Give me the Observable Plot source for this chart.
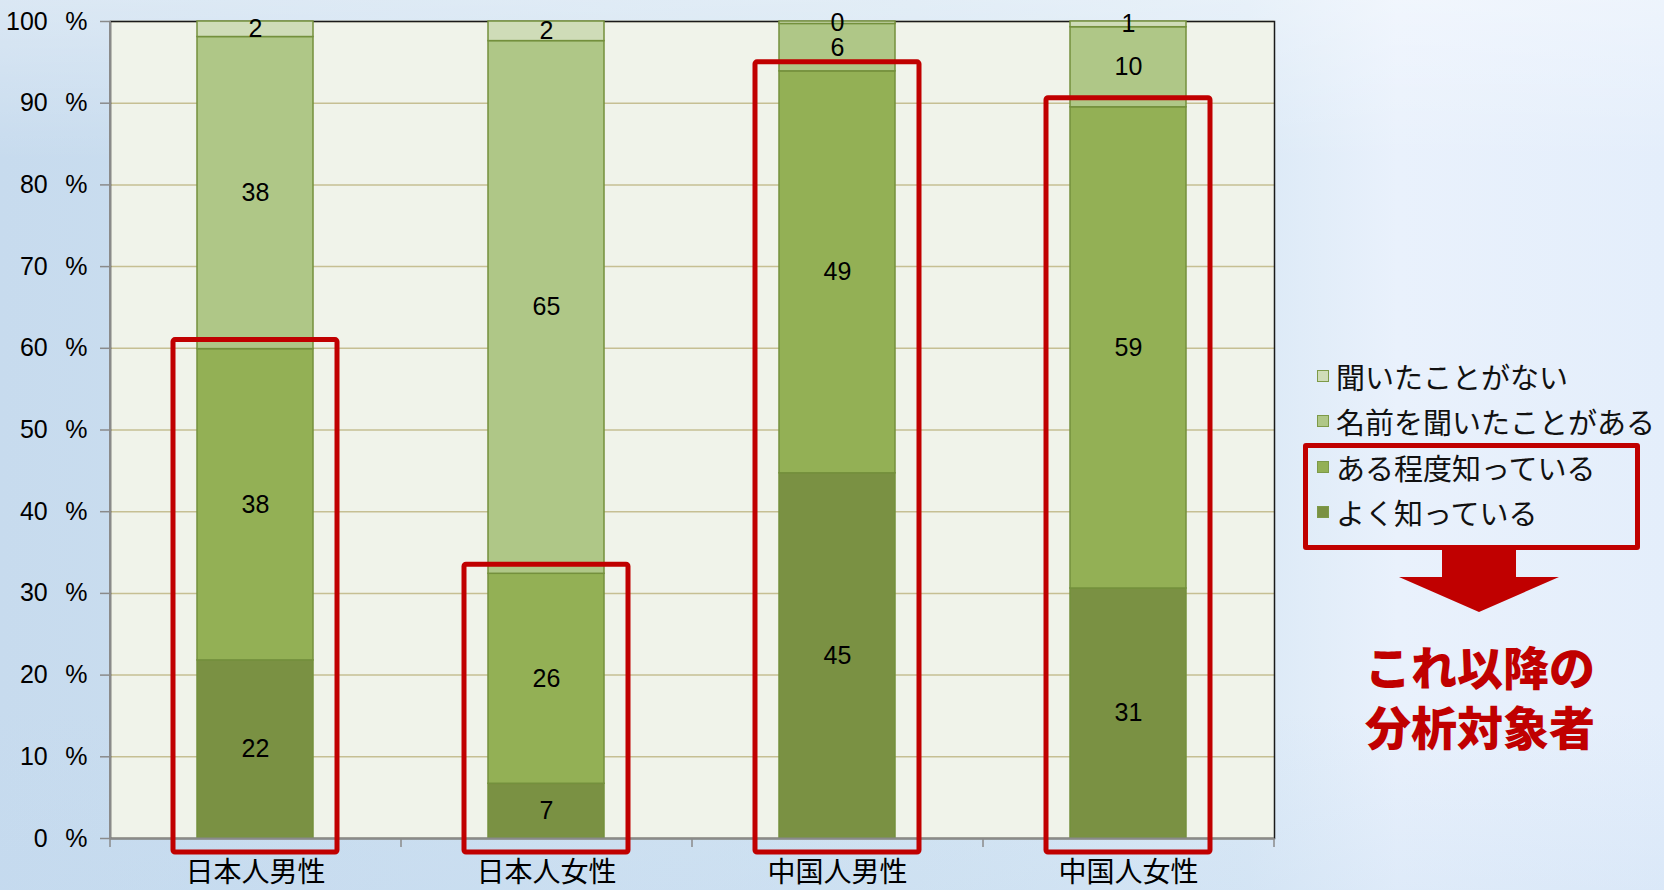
<!DOCTYPE html>
<html>
<head>
<meta charset="utf-8">
<script src="https://cdn.jsdelivr.net/npm/d3@7"></script>
<script src="https://cdn.jsdelivr.net/npm/@observablehq/plot@0.6"></script>
<style>
  html, body { margin: 0; padding: 0; }
  body {
    width: 1664px; height: 890px; overflow: hidden; position: relative;
    background:
      linear-gradient(to bottom, rgba(255,255,255,0.35) 0%, rgba(255,255,255,0) 18%, rgba(255,255,255,0) 80%, rgba(190,215,240,0.25) 100%),
      linear-gradient(to right, #c7dbee 0%, #d3e4f2 55%, #dbe9f6 75%, #e9f1fc 84%, #e4eefb 100%);
    font-family: "Liberation Sans", Arial, sans-serif;
  }
  #chart { position: absolute; left: 0; top: 0; }
  #legend { position: absolute; left: 1317px; top: 353px; font-family: "Noto Sans CJK JP", sans-serif; font-size: 29px; color: #111; }
  .row { height: 45.5px; display: flex; align-items: center; white-space: nowrap; }
  .sw { width: 12px; height: 12px; margin-right: 7px; box-sizing: border-box; border: 1px solid #7d9a48; }
  #redbox { position: absolute; left: 1303px; top: 443px; width: 337px; height: 107px; box-sizing: border-box; border: 5px solid #c00000; border-radius: 3px; }
  #arrow { position: absolute; left: 1390px; top: 548px; }
  .note { position: absolute; left: 1330px; width: 300px; text-align: center; color: #c00000; font-family: "Noto Sans CJK JP", sans-serif; font-weight: 900; font-size: 46px; line-height: 50px; height: 50px; }
</style>
</head>
<body>
<div id="chart"></div>
<div id="legend"></div>
<div id="redbox"></div>
<svg id="arrow" width="180" height="70"><polygon points="52,0 126,0 126,29 169,29 89,64 9,29 52,29" fill="#c00000"/></svg>
<div class="note" style="top: 640px;">これ以降の</div>
<div class="note" style="top: 700px;">分析対象者</div>
<script>
// categories
const groups = ["日本人男性", "日本人女性", "中国人男性", "中国人女性"];
// stacking order, bottom to top
const levels = ["よく知っている", "ある程度知っている", "名前を聞いたことがある", "聞いたことがない"];
// series values (%)
const wellKnown  = [21.8, 6.7, 44.7, 30.6];
const someKnown  = [38.1, 25.7, 49.2, 58.9];
const nameOnly   = [38.2, 65.2, 5.8, 9.8];
const neverHeard = [1.9, 2.4, 0.3, 0.7];
// tick labels
const yTicks = [0, 10, 20, 30, 40, 50, 60, 70, 80, 90, 100];

const colors = ["#7a9143", "#93b055", "#afc787", "#cfdcb8"];

const series = [wellKnown, someKnown, nameOnly, neverHeard];
const data = [];
groups.forEach((g, i) => levels.forEach((l, j) => data.push({group: g, level: l, value: series[j][i]})));
const boxes = groups.map((g, i) => ({group: g, top: wellKnown[i] + someKnown[i]}));

const W = 1290, ML = 110, MR = 16;
const step = (W - ML - MR) / groups.length;
const grey = "#8a8a8a";

const chart = Plot.plot({
  width: W, height: 890,
  marginLeft: ML, marginRight: MR, marginTop: 21, marginBottom: 52,
  style: {background: "transparent", overflow: "visible", fontFamily: "'Liberation Sans', Arial, sans-serif"},
  x: {domain: groups, paddingInner: 0.6, paddingOuter: 0.3, label: null},
  y: {domain: [0, 100], label: null},
  color: {domain: levels, range: colors},
  marks: [
    Plot.frame({fill: "#f0f3ea", stroke: "none"}),
    Plot.gridY(yTicks, {stroke: "#c6bf93", strokeOpacity: 1, strokeWidth: 1.5}),
    Plot.frame({stroke: "#1a1a1a", strokeWidth: 1.5, fill: "none"}),
    Plot.barY(data, Plot.stackY({x: "group", y: "value", fill: "level", stroke: "#74903d", strokeWidth: 1.5})),
    Plot.text(data, Plot.stackY({x: "group", y: "value", text: d => Math.round(d.value), fontSize: 25, fill: "#000"})),
    Plot.ruleY([0], {stroke: grey, strokeWidth: 2}),
    Plot.ruleX([groups[0]], {dx: -step / 2, stroke: grey, strokeWidth: 2}),
    Plot.ruleX(groups, {x: d => d, dx: -step / 2, y1: 0, y2: 0, insetBottom: -9, stroke: grey, strokeWidth: 1.5}),
    Plot.ruleX([groups[groups.length - 1]], {dx: step / 2, y1: 0, y2: 0, insetBottom: -9, stroke: grey, strokeWidth: 1.5}),
    Plot.axisY(yTicks, {tickSize: 10, tickPadding: 13, fontSize: 25, stroke: grey, strokeWidth: 1.5, fill: "#000", tickFormat: d => `${d}\u2002\u2009%`, label: null}),
    Plot.axisX({tickSize: 0, tickPadding: 24, fontSize: 28, fontFamily: "'Noto Sans CJK JP', sans-serif", fill: "#000", label: null}),
    Plot.barY(boxes, {x: "group", y1: 0, y2: "top", fill: "none", stroke: "#c00000", strokeWidth: 5, insetLeft: -24, insetRight: -24, insetTop: -9, insetBottom: -14, rx: 2})
  ]
});
document.getElementById("chart").appendChild(chart);

// legend (top row = top of stack)
const legend = document.getElementById("legend");
levels.slice().reverse().forEach(l => {
  const row = document.createElement("div");
  row.className = "row";
  const sw = document.createElement("span");
  sw.className = "sw";
  sw.style.background = colors[levels.indexOf(l)];
  row.appendChild(sw);
  row.appendChild(document.createTextNode(l));
  legend.appendChild(row);
});
</script>
</body>
</html>
